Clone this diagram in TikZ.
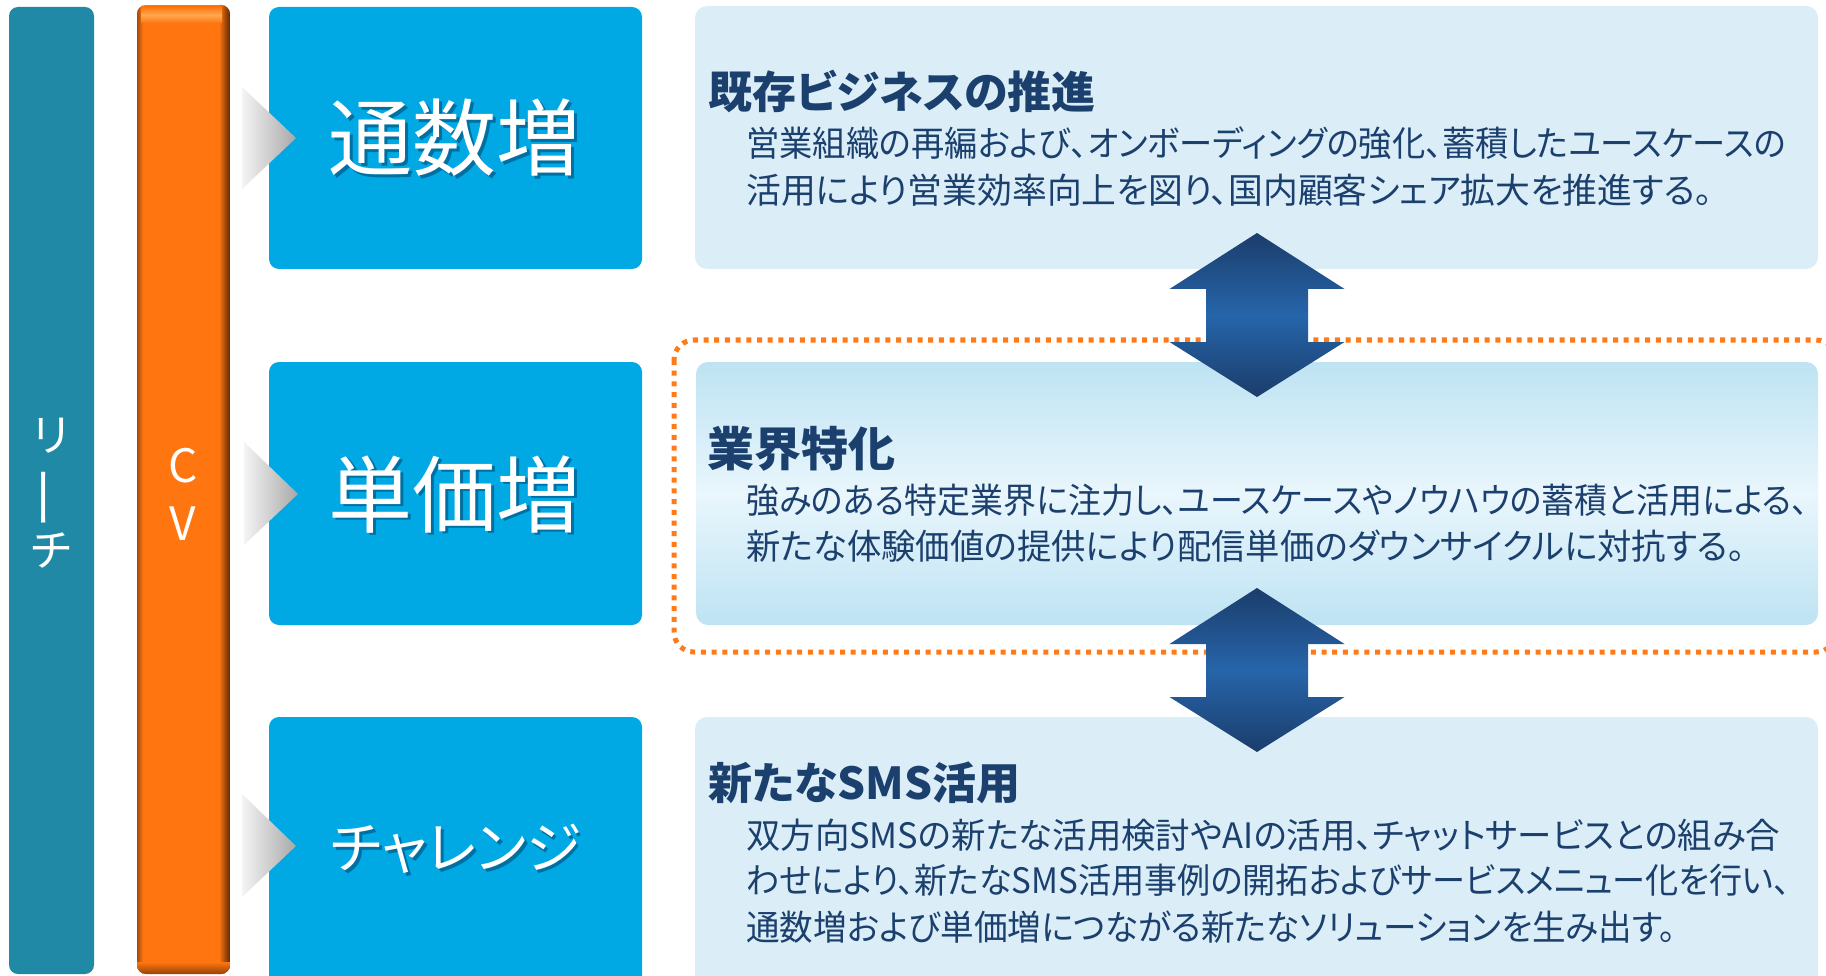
\documentclass[tikz,border=0pt]{standalone}
\usepackage{graphicx}
\usepackage{fontspec}
\newfontfamily\jp[RawFeature=+palt]{Noto Sans CJK JP}
\newcommand\fitw[2]{\resizebox{#1}{\height}{#2}}
\definecolor{tealbar}{RGB}{32,138,166}
\definecolor{orng}{RGB}{255,117,16}
\definecolor{orngdark}{RGB}{92,40,0}
\definecolor{ornglight}{RGB}{255,168,80}
\definecolor{orngdot}{RGB}{255,122,25}
\definecolor{bluebox}{RGB}{0,168,228}
\definecolor{lightbox}{RGB}{219,238,248}
\definecolor{lbtop}{RGB}{190,227,243}
\definecolor{lbmid}{RGB}{233,246,252}
\definecolor{navy}{RGB}{28,64,110}
\definecolor{arrdark}{RGB}{27,61,107}
\definecolor{arrmid}{RGB}{38,101,170}
\definecolor{shadowc}{RGB}{0,45,85}
\definecolor{chevL}{RGB}{244,244,244}
\definecolor{chevR}{RGB}{168,168,168}
\tikzset{
  bluerect/.style={fill=bluebox, rounded corners=10pt},
  lightrect/.style={fill=lightbox, rounded corners=12pt},
  bigtxt/.style={text=white, inner sep=0pt, anchor=center},
  bigshadow/.style={text=shadowc, opacity=.45, inner sep=0pt, anchor=center},
  vtxt/.style={text=white, inner sep=0pt, anchor=center, font={\jp\fontsize{44}{44}\selectfont}},
  ttl/.style={anchor=base west, inner sep=0pt, text=navy, font={\jp\bfseries\fontsize{44}{44}\selectfont}},
  body/.style={anchor=base west, inner sep=0pt, text=navy, font={\jp\fontsize{35}{35}\selectfont}},
  dblarrow/.style={top color=arrdark, bottom color=arrdark, middle color=arrmid},
  dotbox/.style={draw=orngdot, line width=5pt, dash pattern=on 5pt off 5.7pt, rounded corners=20pt}
}
\begin{document}
\begin{tikzpicture}[x=1pt,y=-1pt]
\useasboundingbox (0,0) rectangle (1826,976);
\clip (0,0) rectangle (1826,976);
\fill[white] (0,0) rectangle (1826,976);

% teal bar
\fill[tealbar, rounded corners=9pt] (9,7) rectangle (94,974);
\node[vtxt] (r1) at (51,436) {リ};
\node[vtxt, rotate=90] (r2) at (51,498) {\scalebox{1.45}[1]{ー}};
\node[vtxt] (r3) at (51,551) {チ};

% orange bar
\begin{scope}
\clip[rounded corners=9pt] (137,5) rectangle (230,974);
\fill[orng] (137,5) rectangle (230,974);
\shade[left color=orng, right color=orngdark] (219,0) rectangle (230,980);
\shade[left color=orngdark!55!orng, right color=orng] (137,0) rectangle (143,980);
\shade[top color=orng, bottom color=orng, middle color=ornglight] (141,7) rectangle (222,23);
\shade[top color=orng, bottom color=orngdark!70!orng] (137,962) rectangle (230,975);
\end{scope}
\node[vtxt, font={\jp\fontsize{46}{46}\selectfont}] (c) at (183,466) {C};
\node[vtxt, font={\jp\fontsize{46}{46}\selectfont}] (v) at (183,524) {V};

% blue boxes
\fill[bluerect] (269,7) rectangle (642,269);
\fill[bluerect] (269,362) rectangle (642,625);
\fill[bluerect] (269,717) rectangle (642,990);

% chevrons
\shade[left color=chevL, right color=chevR] (242,87) -- (296,138) -- (242,189) -- cycle;
\shade[left color=chevL, right color=chevR] (244,442) -- (298,494) -- (244,545) -- cycle;
\shade[left color=chevL, right color=chevR] (242,794) -- (296,846) -- (242,897) -- cycle;

% big texts
\node[bigshadow, font={\jp\fontsize{84}{84}\selectfont}] (t1s) at (457,140.5) {通数増};
\node[bigtxt, font={\jp\fontsize{84}{84}\selectfont}] (t1) at (454.5,138) {通数増};
\node[bigshadow, font={\jp\fontsize{84}{84}\selectfont}] (t2s) at (457,497) {単価増};
\node[bigtxt, font={\jp\fontsize{84}{84}\selectfont}] (t2) at (454.5,494.5) {単価増};
\node[bigshadow, font={\jp\fontsize{56}{56}\selectfont}] (t3s) at (458.5,851.5) {チャレンジ};
\node[bigtxt, font={\jp\fontsize{56}{56}\selectfont}] (t3) at (456,849) {チャレンジ};

% light boxes
\fill[lightrect] (695,6) rectangle (1818,269);
\shade[rounded corners=12pt, top color=lbtop, bottom color=lbtop, middle color=lbmid] (696,362) rectangle (1818,625);
\fill[lightrect] (695,717) rectangle (1818,990);

% dotted highlight
\draw[dotbox] (674,340) rectangle (1836,652);

% double arrows
\shade[dblarrow] (1257,233) -- (1344.5,289) -- (1308,289) -- (1308,342) -- (1344.5,342) -- (1257,397)
  -- (1169.5,342) -- (1206,342) -- (1206,289) -- (1169.5,289) -- cycle;
\shade[dblarrow] (1257,588) -- (1344.5,644) -- (1308,644) -- (1308,697) -- (1344.5,697) -- (1257,752)
  -- (1169.5,697) -- (1206,697) -- (1206,644) -- (1169.5,644) -- cycle;

% texts A
\node[ttl] (ta) at (708,109) {既存ビジネスの推進};
\node[body] (a1) at (746,157) {\fitw{1040pt}{営業組織の再編および、オンボーディングの強化、蓄積したユースケースの}};
\node[body] (a2) at (746,204) {\fitw{966pt}{活用により営業効率向上を図り、国内顧客シェア拡大を推進する。}};
% texts B
\node[ttl, font={\jp\bfseries\fontsize{47}{47}\selectfont}] (tb) at (707,466) {業界特化};
\node[body] (b1) at (746,513) {\fitw{1062pt}{強みのある特定業界に注力し、ユースケースやノウハウの蓄積と活用による、}};
\node[body] (b2) at (746,559) {\fitw{999pt}{新たな体験価値の提供により配信単価のダウンサイクルに対抗する。}};
% texts C
\node[ttl] (tc) at (708,799) {新たなSMS活用};
\node[body] (c1) at (746,848) {\fitw{1034pt}{双方向SMSの新たな活用検討やAIの活用、チャットサービスとの組み合}};
\node[body] (c2) at (746,893) {\fitw{1044pt}{わせにより、新たなSMS活用事例の開拓およびサービスメニュー化を行い、}};
\node[body] (c3) at (746,940) {\fitw{930pt}{通数増および単価増につながる新たなソリューションを生み出す。}};
\end{tikzpicture}
\end{document}
